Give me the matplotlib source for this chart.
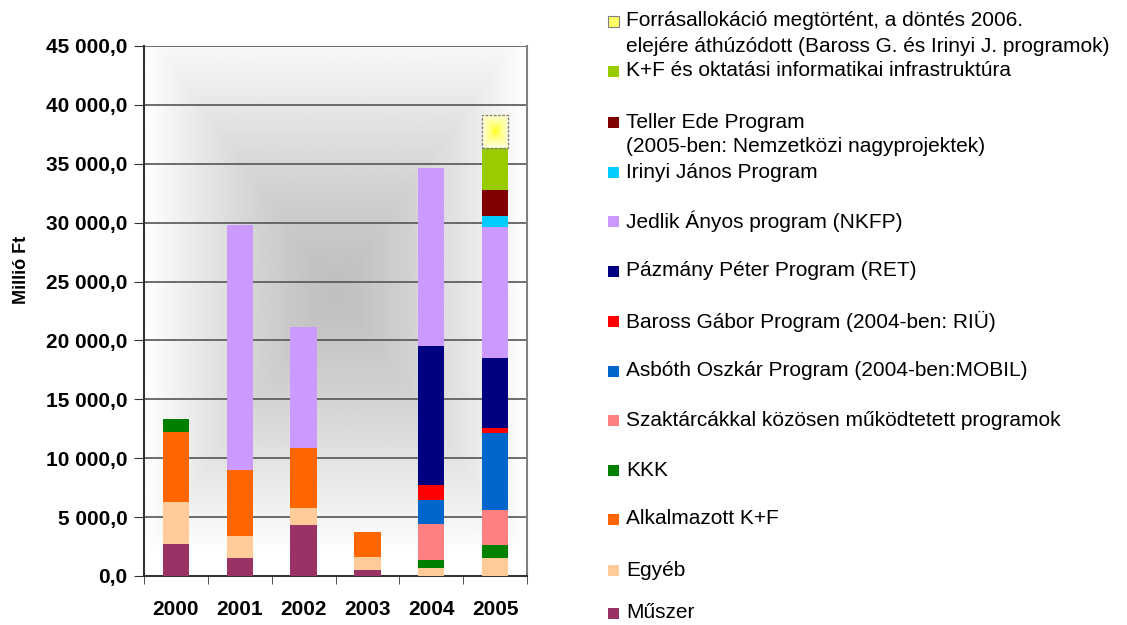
import numpy as np
import matplotlib.pyplot as plt
from matplotlib.patches import Rectangle
from matplotlib.ticker import FuncFormatter, MultipleLocator

plt.rcParams['font.family'] = ['Liberation Sans', 'DejaVu Sans']

years = ['2000', '2001', '2002', '2003', '2004', '2005']

# stacked from bottom to top
muszer = [2700, 1500, 4300, 550, 0, 0]
egyeb = [3550, 1870, 1450, 1100, 650, 1500]
alkalmazott = [5950, 5600, 5100, 2050, 0, 0]
kkk = [1100, 0, 0, 0, 750, 1100]
szaktarca = [0, 0, 0, 0, 3000, 3000]
asboth = [0, 0, 0, 0, 2050, 6500]
baross = [0, 0, 0, 0, 1250, 450]
pazmany = [0, 0, 0, 0, 11800, 6000]
jedlik = [0, 20800, 10300, 0, 15100, 11050]
irinyi = [0, 0, 0, 0, 0, 950]
teller = [0, 0, 0, 0, 0, 2200]
kf_infra = [0, 0, 0, 0, 0, 3550]
forras = [0, 0, 0, 0, 0, 2850]

series = [
    ('Műszer', muszer, '#993366'),
    ('Egyéb', egyeb, '#FFCC99'),
    ('Alkalmazott K+F', alkalmazott, '#FF6600'),
    ('KKK', kkk, '#008000'),
    ('Szaktárcákkal közösen működtetett programok', szaktarca, '#FF8080'),
    ('Asbóth Oszkár Program (2004-ben:MOBIL)', asboth, '#0066CC'),
    ('Baross Gábor Program (2004-ben: RIÜ)', baross, '#FF0000'),
    ('Pázmány Péter Program (RET)', pazmany, '#000080'),
    ('Jedlik Ányos program (NKFP)', jedlik, '#CC99FF'),
    ('Irinyi János Program', irinyi, '#00CCFF'),
    ('Teller Ede Program\n(2005-ben: Nemzetközi nagyprojektek)', teller, '#800000'),
    ('K+F és oktatási informatikai infrastruktúra', kf_infra, '#99CC00'),
    ('Forrásallokáció megtörtént, a döntés 2006.\nelejére áthúzódott (Baross G. és Irinyi J. programok)', forras, None),
]

W, H = 1127, 625
fig = plt.figure(figsize=(W / 100, H / 100), dpi=100)
ax = fig.add_axes([144 / W, 49 / H, 383 / W, 530 / H])

# background: rectangular gradient, grey centre fading to white edges
gx, gy = np.meshgrid(np.linspace(-1, 1, 300), np.linspace(-1, 1, 300))
d = np.maximum(np.abs(gx), np.abs(gy + 0.08))
d = np.clip(d, 0, 1)
shade = 0.75 + 0.25 * d ** 1.3
ax.imshow(shade, cmap='gray', vmin=0, vmax=1, extent=[0, 1, 0, 1],
          transform=ax.transAxes, aspect='auto', zorder=0, interpolation='bilinear')

x = np.arange(len(years))
bottom = np.zeros(len(years))
for name, vals, color in series:
    vals = np.array(vals, dtype=float)
    if color is None:
        mask = vals > 0
        bars = ax.bar(x[mask], vals[mask], 0.41, bottom=bottom[mask], facecolor='none',
                      edgecolor='#808080', linestyle=(0, (2, 1)), linewidth=1, zorder=4)
        for b in bars:
            gx2, gy2 = np.meshgrid(np.linspace(-1, 1, 100), np.linspace(-1, 1, 100))
            r = np.clip(np.maximum(np.abs(gx2), np.abs(gy2)), 0, 1)
            img = np.ones((100, 100, 3))
            img[..., 2] = 0.88 * r ** 0.6
            ax.imshow(img, extent=[b.get_x(), b.get_x() + b.get_width(),
                                   b.get_y(), b.get_y() + b.get_height()],
                      aspect='auto', zorder=3, interpolation='bilinear')
    else:
        ax.bar(x, vals, 0.41, bottom=bottom, color=color, zorder=3)
    bottom += vals

ax.set_xlim(-0.5, len(years) - 0.5)
ax.set_ylim(0, 45000)
ax.yaxis.set_major_locator(MultipleLocator(5000))
ax.yaxis.grid(True, color='#555555', linewidth=1.2, zorder=1)
ax.set_axisbelow(True)


def fmt(v, pos):
    return '{:,.1f}'.format(v).replace(',', ' ').replace('.', ',')


ax.yaxis.set_major_formatter(FuncFormatter(fmt))
ax.set_xticks(x)
ax.set_xticklabels(years)
ax.set_xticks(np.arange(-0.5, len(years)), minor=True)
ax.tick_params(axis='x', which='major', length=0, pad=17)
ax.tick_params(axis='x', which='minor', length=6, color='#333333', direction='out')
ax.tick_params(axis='y', length=7, color='#333333', direction='out', pad=5)
for lab in ax.get_xticklabels() + ax.get_yticklabels():
    lab.set_fontweight('bold')
    lab.set_fontsize(15)
for s in ax.spines.values():
    s.set_color('#808080')
    s.set_linewidth(1.5)
ax.spines['top'].set_visible(False)
ax.spines['bottom'].set_color('#333333')
ax.spines['left'].set_color('#333333')
fig.text(22 / W, 1 - 270 / H, 'Millió Ft', fontsize=13, fontweight='bold',
         rotation=90, ha='center', va='center')

# manual legend, top entry first
legend_y = [21, 71, 122, 172, 221, 271, 321, 371, 420, 470, 519, 570, 613]
for (name, vals, color), yy in zip(series[::-1], legend_y):
    if color is None:
        fig.add_artist(Rectangle((608 / W, 1 - (yy + 5.5) / H), 11 / W, 11 / H,
                                 transform=fig.transFigure, facecolor='#FFFF66',
                                 edgecolor='#808080', linewidth=0.8))
    else:
        fig.add_artist(Rectangle((608 / W, 1 - (yy + 5.5) / H), 11 / W, 11 / H,
                                 transform=fig.transFigure, facecolor=color,
                                 edgecolor='none'))
    for i, line in enumerate(name.split('\n')):
        fig.text(626 / W, 1 - (yy + 25 * i) / H, line, fontsize=15,
                 va='center', ha='left')

fig.savefig('out.png', dpi=100)
